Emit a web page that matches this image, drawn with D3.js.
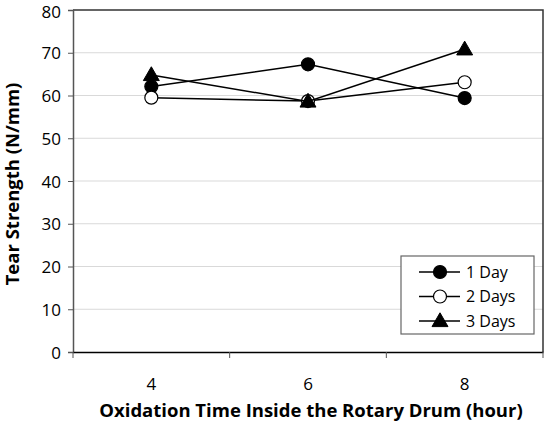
<!DOCTYPE html>
<html>
<head>
<meta charset="utf-8">
<script src="https://cdn.jsdelivr.net/npm/d3@7"></script>
<style>
  body { margin: 0; background: #fff; }
  text { font-family: "Open Sans", "Noto Sans", sans-serif; fill: #000; }
</style>
</head>
<body>
<svg id="chart"></svg>
<script>
var categories = ['4', '6', '8']
var oneDay = [62.1, 67.3, 59.4]
var twoDays = [59.5, 58.7, 63.1]
var threeDays = [64.8, 58.6, 70.8]
var yTicks = [0, 10, 20, 30, 40, 50, 60, 70, 80]

var series = [
  { name: '1 Day', values: oneDay, marker: 'circle', fill: '#000' },
  { name: '2 Days', values: twoDays, marker: 'circle', fill: '#fff' },
  { name: '3 Days', values: threeDays, marker: 'triangle', fill: '#000' }
]

var svgWidth = 549
var svgHeight = 422
var plotLeft = 73, plotRight = 543, plotTop = 10, plotBottom = 352

var svg = d3.select('#chart').attr('width', svgWidth).attr('height', svgHeight)

var x = d3.scaleBand().domain(categories).range([plotLeft, plotRight])
var y = d3.scaleLinear().domain([0, 80]).range([plotBottom, plotTop])

// gridlines
svg.append('g').selectAll('line')
  .data(yTicks.filter(function(t) { return t > 0 && t < 80 }))
  .enter().append('line')
  .attr('x1', plotLeft).attr('x2', plotRight)
  .attr('y1', function(d) { return y(d) }).attr('y2', function(d) { return y(d) })
  .attr('stroke', '#d9d9d9').attr('stroke-width', 1)

// top and right frame
svg.append('path')
  .attr('d', d3.line()([[plotLeft, plotTop], [plotRight, plotTop], [plotRight, plotBottom]]))
  .attr('fill', 'none').attr('stroke', '#333').attr('stroke-width', 1.5)

// y axis
var yAxis = svg.append('g')
  .attr('transform', 'translate(' + plotLeft + ',0)')
  .call(d3.axisLeft(y).tickValues(yTicks).tickSize(5).tickPadding(7))
yAxis.select('.domain').attr('stroke', '#555').attr('stroke-width', 1.5)
yAxis.selectAll('.tick line').attr('stroke', '#555')
yAxis.selectAll('.tick text').style('font-size', '17px').attr('fill', '#000')
  .attr('dy', function(d) { return d === 80 ? '0.45em' : '0.36em' })

// x axis: ticks at category boundaries
var xAxis = svg.append('g')
  .attr('transform', 'translate(0,' + plotBottom + ')')
  .call(d3.axisBottom(x).tickSize(0).tickPadding(26))
xAxis.select('.domain').attr('stroke', '#000').attr('stroke-width', 1.5)
xAxis.selectAll('.tick text').style('font-size', '17px').attr('fill', '#000')
var bounds = [plotLeft].concat(categories.map(function(c) { return x(c) + x.bandwidth() }))
xAxis.selectAll('line.bound').data(bounds).enter().append('line')
  .attr('class', 'bound')
  .attr('x1', function(d) { return d }).attr('x2', function(d) { return d })
  .attr('y1', 0).attr('y2', 6)
  .attr('stroke', '#555').attr('stroke-width', 1)

// axis titles
svg.append('text')
  .attr('x', 311).attr('y', 417)
  .attr('text-anchor', 'middle')
  .style('font-size', '18.5px').style('font-weight', 'bold')
  .text('Oxidation Time Inside the Rotary Drum (hour)')

svg.append('g')
  .attr('transform', 'translate(19 ' + ((plotTop + plotBottom) / 2 + 3) + ')')
  .append('text')
  .attr('transform', 'rotate(-90)')
  .attr('text-anchor', 'middle')
  .style('font-size', '18.5px').style('font-weight', 'bold')
  .text('Tear Strength (N/mm)')

var cx = function(i) { return x(categories[i]) + x.bandwidth() / 2 }

var _drawMarker = function(g, s, px, py) {
  if (s.marker === 'circle') {
    g.append('circle').attr('cx', px).attr('cy', py).attr('r', 6.5)
      .attr('fill', s.fill).attr('stroke', '#000').attr('stroke-width', 1.2)
  } else {
    g.append('path')
      .attr('d', d3.symbol().type(d3.symbolTriangle).size(110)())
      .attr('transform', 'translate(' + px + ' ' + (py + 1) + ')')
      .attr('fill', s.fill).attr('stroke', '#000')
  }
}

// series
var lineFunction = d3.line()
  .x(function(d, i) { return cx(i) })
  .y(function(d) { return y(d) })

series.forEach(function(s) {
  var g = svg.append('g')
  g.append('path').attr('d', lineFunction(s.values))
    .attr('fill', 'none').attr('stroke', '#000').attr('stroke-width', 1.5)
  s.values.forEach(function(v, i) { _drawMarker(g, s, cx(i), y(v)) })
})

// legend
var legend = svg.append('g')
legend.append('rect')
  .attr('x', 401).attr('y', 256).attr('width', 133).attr('height', 78)
  .attr('fill', '#fff').attr('stroke', '#666').attr('stroke-width', 1.2)
series.forEach(function(s, i) {
  var ly = 272 + i * 24.5
  legend.append('line').attr('x1', 419).attr('x2', 460)
    .attr('y1', ly).attr('y2', ly).attr('stroke', '#000').attr('stroke-width', 1.5)
  _drawMarker(legend, s, 440, ly)
  legend.append('text').attr('x', 466).attr('y', ly).attr('dy', '0.35em')
    .style('font-size', '16px').text(s.name)
})
</script>
</body>
</html>
